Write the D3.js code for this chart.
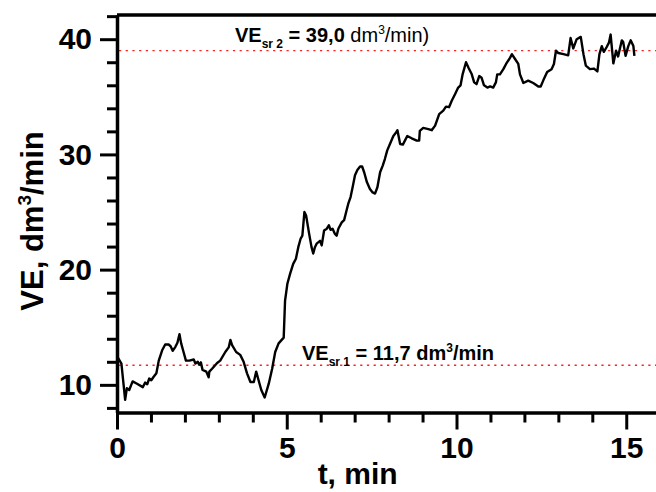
<!DOCTYPE html>
<html>
<head>
<meta charset="utf-8">
<script src="https://cdn.jsdelivr.net/npm/d3@7"></script>
<style>
  html, body { margin: 0; padding: 0; background: #fff; }
  svg { display: block; font-family: "Liberation Sans", Arial, sans-serif; }
</style>
</head>
<body>
<svg id="chart" width="656" height="492"></svg>
<script>
// Ventilation over time (t in minutes, VE in dm3/min)
const timeMin = [0.00,0.13,0.24,0.29,0.36,0.46,0.59,0.76,0.83,0.89,0.95,1.01,1.08,1.16,1.23,1.33,1.42,1.52,1.58,1.64,1.72,1.78,1.84,1.89,1.96,2.03,2.13,2.26,2.31,2.38,2.42,2.47,2.52,2.63,2.70,2.72,2.80,2.95,3.04,3.19,3.29,3.34,3.39,3.51,3.63,3.73,3.83,3.93,4.03,4.10,4.17,4.25,4.35,4.47,4.57,4.66,4.76,4.91,4.95,5.02,5.10,5.19,5.27,5.34,5.41,5.46,5.52,5.57,5.66,5.73,5.78,5.83,5.88,5.98,6.03,6.10,6.18,6.24,6.29,6.35,6.42,6.47,6.52,6.62,6.69,6.75,6.81,6.88,6.94,7.01,7.08,7.16,7.22,7.28,7.36,7.45,7.53,7.60,7.67,7.75,7.83,7.89,7.96,8.04,8.14,8.22,8.26,8.34,8.42,8.55,8.68,8.83,8.90,8.92,9.02,9.17,9.27,9.37,9.49,9.61,9.69,9.78,9.86,9.96,10.05,10.12,10.18,10.28,10.35,10.45,10.52,10.59,10.67,10.74,10.81,10.91,10.99,11.08,11.16,11.20,11.28,11.38,11.46,11.58,11.63,11.72,11.82,11.87,11.97,12.11,12.26,12.41,12.48,12.56,12.67,12.80,12.87,12.93,13.00,13.15,13.29,13.36,13.44,13.54,13.66,13.74,13.81,13.93,14.05,14.15,14.21,14.28,14.34,14.42,14.49,14.54,14.62,14.70,14.76,14.87,14.91,14.98,15.06,15.13,15.21,15.24];
const veValues = [12.5,11.85,8.7,9.7,9.55,10.3,10.1,9.8,10.2,10.05,10.55,10.4,10.7,11.0,12.1,13.0,13.5,13.5,13.35,12.95,13.3,13.65,14.4,13.6,12.85,12.1,12.1,12.2,11.85,12.0,11.75,11.95,11.3,11.15,10.65,11.15,11.4,11.9,12.1,12.85,13.25,13.9,13.45,12.85,12.6,12.0,11.0,10.25,10.25,11.15,10.4,9.55,8.9,10.1,11.4,12.85,13.6,14.1,17.3,18.8,19.65,20.5,20.95,21.95,22.7,22.95,25.0,24.7,23.1,21.95,21.4,21.95,22.25,22.5,22.1,23.4,23.55,23.85,23.45,23.55,23.1,22.95,23.55,24.1,24.3,25.0,25.7,26.3,27.15,28.2,28.65,28.95,28.95,28.45,27.6,27.0,26.7,26.6,27.15,28.45,29.05,29.6,30.35,30.9,31.6,31.9,32.1,30.9,30.85,31.6,31.4,31.2,31.2,32.05,32.3,32.2,32.1,32.5,33.5,33.8,34.15,34.1,34.65,35.25,35.8,36.0,36.95,38.0,37.55,36.95,36.25,36.1,36.8,36.65,36.0,35.8,35.9,35.8,36.25,36.95,36.95,37.4,37.85,38.4,38.7,38.3,37.85,36.95,36.2,36.4,36.2,35.9,35.9,36.45,37.15,37.4,37.85,39.0,38.8,38.7,38.6,40.1,39.2,40.0,40.2,38.7,37.7,37.4,37.45,37.2,38.7,39.4,38.9,39.3,39.7,40.4,37.9,39.0,38.5,39.9,39.75,38.55,39.4,39.9,39.4,38.55];

// Mean ventilation levels for the two phases
const meanLevels = [11.7, 39.0];

// Axis ticks
const xMajorTicks = [0, 5, 10, 15];
const xMinorTicks = [1, 2, 3, 4, 6, 7, 8, 9, 11, 12, 13, 14, 16];
const yMajorTicks = [10, 20, 30, 40];
const yMinorTicks = [8, 12, 14, 16, 18, 22, 24, 26, 28, 32, 34, 36, 38, 42];

const svg = d3.select("#chart");
const plotLeft = 117, plotRight = 660.2, plotTop = 15, plotBottom = 412.5;

const x = d3.scaleLinear().domain([0, 16]).range([plotLeft, plotRight]);
const y = d3.scaleLinear().domain([7.6, 42.1]).range([plotBottom, plotTop]);

const data = timeMin.map((t, i) => ({ t, v: veValues[i] }));

// Mean level reference lines
svg.append("g").selectAll("line")
  .data(meanLevels)
  .join("line")
  .attr("x1", plotLeft + 2).attr("x2", plotRight)
  .attr("y1", d => y(d)).attr("y2", d => y(d))
  .attr("stroke", "#ff2020")
  .attr("stroke-width", 1.3)
  .attr("stroke-dasharray", "2.2,4.5");

// Data trace
svg.append("path")
  .datum(data)
  .attr("fill", "none")
  .attr("stroke", "#000")
  .attr("stroke-width", 2.4)
  .attr("stroke-linejoin", "round")
  .attr("d", d3.line().x(d => x(d.t)).y(d => y(d.v)));

// Frame top line
svg.append("line")
  .attr("x1", plotLeft).attr("x2", plotRight + 2)
  .attr("y1", plotTop).attr("y2", plotTop)
  .attr("stroke", "#000").attr("stroke-width", 3.5);

function styleAxis(g) {
  g.selectAll("path.domain").attr("stroke", "#000").attr("stroke-width", 3.5);
  g.selectAll(".tick line").attr("stroke", "#000").attr("stroke-width", 3);
}

// X axis: minor then major ticks
const gxMinor = svg.append("g").attr("transform", `translate(0,${plotBottom})`)
  .call(d3.axisBottom(x).tickValues(xMinorTicks).tickSize(10).tickSizeOuter(0).tickFormat(""));
styleAxis(gxMinor);
const gxMajor = svg.append("g").attr("transform", `translate(0,${plotBottom})`)
  .call(d3.axisBottom(x).tickValues(xMajorTicks).tickSize(17).tickSizeOuter(0).tickPadding(7));
styleAxis(gxMajor);
gxMajor.selectAll("path.domain").remove();
gxMajor.selectAll(".tick text")
  .attr("font-size", 30).attr("font-weight", "bold").attr("fill", "#000")
  .attr("font-family", "Liberation Sans, Arial, sans-serif");

// Y axis: minor then major ticks
const gyMinor = svg.append("g").attr("transform", `translate(${plotLeft},0)`)
  .call(d3.axisLeft(y).tickValues(yMinorTicks).tickSize(10).tickSizeOuter(0).tickFormat(""));
styleAxis(gyMinor);
const gyMajor = svg.append("g").attr("transform", `translate(${plotLeft},0)`)
  .call(d3.axisLeft(y).tickValues(yMajorTicks).tickSize(17).tickSizeOuter(0).tickPadding(8));
styleAxis(gyMajor);
gyMajor.selectAll("path.domain").remove();
gyMajor.selectAll(".tick text")
  .attr("font-size", 30).attr("font-weight", "bold").attr("fill", "#000")
  .attr("font-family", "Liberation Sans, Arial, sans-serif");

// Axis titles
svg.append("text")
  .attr("x", (x(5) + x(10)) / 2 - 14).attr("y", 484)
  .attr("text-anchor", "middle")
  .attr("font-size", 30).attr("font-weight", "bold")
  .text("t, min");

const yTitle = svg.append("text")
  .attr("transform", `translate(43,221) rotate(-90)`)
  .attr("text-anchor", "middle")
  .attr("font-size", 31).attr("font-weight", "bold");
yTitle.append("tspan").text("VE, dm");
yTitle.append("tspan").attr("font-size", 19).attr("dy", -12).text("3");
yTitle.append("tspan").attr("dy", 12).text("/min");

// Mean level labels
function meanLabel(xPos, yPos, sub, value, boldUnit, closing) {
  const t = svg.append("text").attr("x", xPos).attr("y", yPos)
    .attr("font-size", 20).attr("font-weight", "bold");
  t.append("tspan").text("VE");
  t.append("tspan").attr("font-size", 12).attr("dy", 6).text(sub);
  t.append("tspan").attr("dy", -6).text(" = " + value.toFixed(1).replace(".", ",") + " ");
  const unitWeight = boldUnit ? "bold" : "normal";
  t.append("tspan").attr("font-weight", unitWeight).text("dm");
  t.append("tspan").attr("font-weight", unitWeight).attr("font-size", 12).attr("dy", -8).text("3");
  t.append("tspan").attr("font-weight", unitWeight).attr("dy", 8).text("/min" + closing);
}
meanLabel(235, 42, "sr 2", meanLevels[1], false, ")");
meanLabel(302, 360, "sr 1", meanLevels[0], true, "");
</script>
</body>
</html>
